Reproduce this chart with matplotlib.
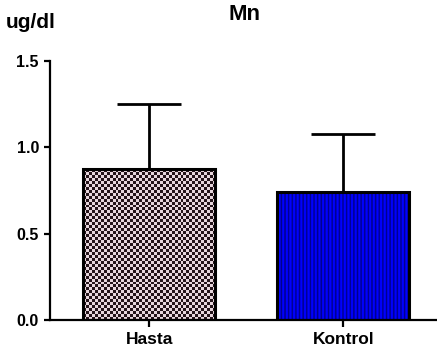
import numpy as np
import matplotlib
matplotlib.use("Agg")
import matplotlib.pyplot as plt

categories = ["Hasta", "Kontrol"]
means = [0.872, 0.738]
sd_upper = [0.376, 0.340]
yticks = [0.0, 0.5, 1.0, 1.5]
ytick_labels = ["0.0", "0.5", "1.0", "1.5"]
title = "Mn"
unit_label = "ug/dl"

plt.rcParams['font.family'] = ['Liberation Sans', 'DejaVu Sans']
plt.rcParams['font.weight'] = 'bold'

W, H = 437, 358
fig = plt.figure(figsize=(W / 100, H / 100), dpi=100)
ax = fig.add_axes([50 / W, 38 / H, 387 / W, 259.3 / H])

x = np.arange(len(categories))
bars = ax.bar(x, means, width=0.68, facecolor='none', edgecolor='black',
              linewidth=2.2, zorder=3)
ax.errorbar(x, means, yerr=[np.zeros(len(means)), sd_upper], fmt='none',
            ecolor='black', elinewidth=2.0, capsize=23, capthick=2.0, zorder=2)

ax.set_xlim(-0.51, 1.482)
ax.set_ylim(0, 1.5)
ax.set_yticks(yticks)
ax.set_yticklabels(ytick_labels)
ax.set_xticks(x)
ax.set_xticklabels(categories)

for s in ['top', 'right']:
    ax.spines[s].set_visible(False)
for s in ['left', 'bottom']:
    ax.spines[s].set_linewidth(1.6)
ax.tick_params(axis='y', length=4.5, width=1.6, pad=3.5, labelsize=11.5)
ax.tick_params(axis='x', length=5, width=1.6, pad=4, labelsize=12.5)
for lab in ax.get_xticklabels() + ax.get_yticklabels():
    lab.set_fontweight('bold')

fig.canvas.draw()

def to_rgb(h):
    h = h.lstrip('#')
    return [int(h[i:i + 2], 16) / 255 for i in (0, 2, 4)]

# textures clipped to bars
for i, p in enumerate(bars.patches):
    x0, y0 = p.get_x(), p.get_y()
    w, h = p.get_width(), p.get_height()
    (px0, py0) = ax.transData.transform((x0, y0))
    (px1, py1) = ax.transData.transform((x0 + w, y0 + h))
    wp, hp = px1 - px0, py1 - py0
    if i == 0:
        cell = 3
        nx, ny = int(np.ceil(wp / cell)), int(np.ceil(hp / cell))
        jj, ii = np.meshgrid(np.arange(nx), np.arange(ny))
        mask = (ii + jj) % 2
        dark = np.array(to_rgb('#24141a'))
        light = np.array(to_rgb('#e6d6dc'))
        img = np.where(mask[..., None] == 1, dark, light)
        interp = 'nearest'
    else:
        ss = 8
        n = int(round(wp * ss))
        t = np.arange(n) / ss
        phase = (t % 3.6) / 3.6
        dark = np.array(to_rgb('#000088'))
        blue = np.array(to_rgb('#0000ff'))
        row = np.where((phase < 0.4)[:, None], dark, blue)
        img = row[None, :, :]
        interp = 'antialiased'
    im = ax.imshow(img, extent=(x0, x0 + w, y0, y0 + h), aspect='auto',
                   interpolation=interp, zorder=1.5)
    im.set_clip_path(p)

ax.set_xlim(-0.51, 1.482)
ax.set_ylim(0, 1.5)

fig.text(245 / W, 1 - 20 / H, title, ha='center', va='baseline',
         fontsize=16, fontweight='bold')
fig.text(6 / W, 1 - 28.5 / H, unit_label, ha='left', va='baseline',
         fontsize=15, fontweight='bold')

fig.savefig("out.png", dpi=100)
